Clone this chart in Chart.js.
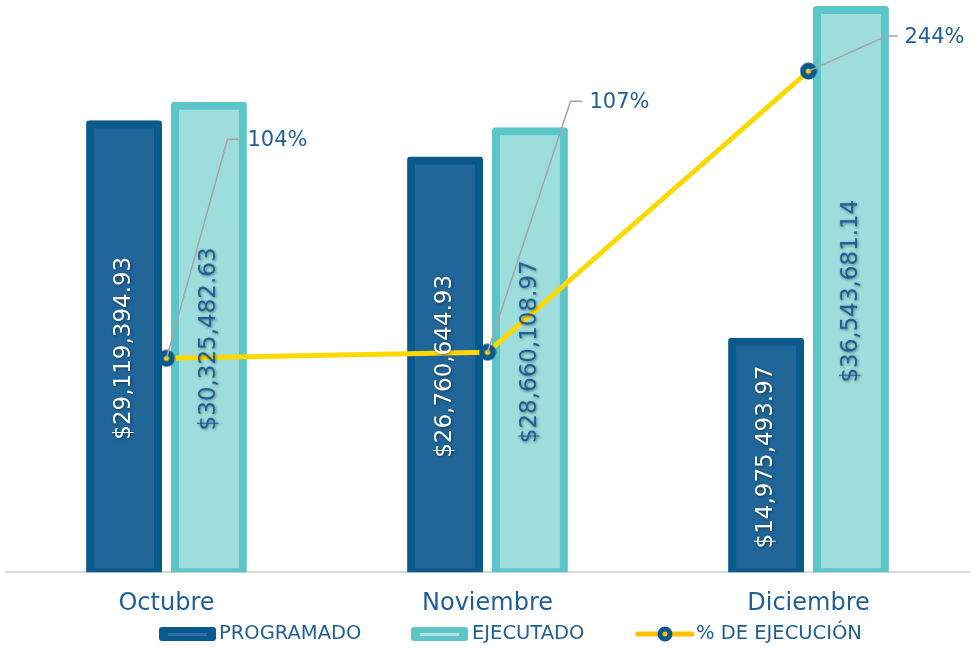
<!DOCTYPE html>
<html><head><meta charset="utf-8">
<script src="https://cdn.jsdelivr.net/npm/chart.js@4.4.0/dist/chart.umd.min.js"></script>
<style>html,body{margin:0;padding:0;background:#fff;}#wrap{width:973px;height:649px;}</style>
</head><body><div id="wrap"><canvas id="c" width="973" height="649"></canvas></div>
<script>
const categories = ['Octubre', 'Noviembre', 'Diciembre'];
const programado = [29119394.93, 26760644.93, 14975493.97];
const ejecutado = [30325482.63, 28660108.97, 36543681.14];
const ejecucionPct = [104.14, 107.10, 244.02];
const seriesNames = ['PROGRAMADO', 'EJECUTADO', '% DE EJECUCIÓN'];

const FONT = '"DejaVu Sans", "Noto Sans", sans-serif';
const TEXT_BLUE = '#1F5F99';
const DARK_BORDER = '#0B5A8E', DARK_FILL = '#216699';
const LIGHT_BORDER = '#5CC5C7', LIGHT_FILL = '#9DDDDC';
const YELLOW = '#FFD800';

const fmtMoney = v => '$' + v.toLocaleString('en-US', {minimumFractionDigits: 2, maximumFractionDigits: 2});

// marker image for the line points: blue ring with a yellow centre
const marker = document.createElement('canvas');
marker.width = 18; marker.height = 18;
(function () {
  const m = marker.getContext('2d');
  m.beginPath(); m.arc(9, 9, 8.5, 0, Math.PI * 2); m.fillStyle = DARK_BORDER; m.fill();
  m.beginPath(); m.arc(9, 9, 2.6, 0, Math.PI * 2); m.fillStyle = YELLOW; m.fill();
})();

const labelPlugin = {
  id: 'labelPlugin',
  afterDatasetsDraw(chart) {
    const ctx = chart.ctx;
    [0, 1].forEach(di => {
      const meta = chart.getDatasetMeta(di);
      const ds = chart.data.datasets[di];
      meta.data.forEach((el, i) => {
        const cy = (el.y + el.base) / 2;
        ctx.save();
        ctx.translate(el.x, cy);
        ctx.rotate(-Math.PI / 2);
        ctx.font = '23px ' + FONT;
        ctx.textAlign = 'center';
        ctx.textBaseline = 'middle';
        ctx.shadowColor = 'rgba(0,0,0,0.45)';
        ctx.shadowBlur = 3;
        ctx.shadowOffsetX = 1;
        ctx.shadowOffsetY = 1;
        ctx.fillStyle = di === 0 ? '#FFFFFF' : TEXT_BLUE;
        ctx.fillText(fmtMoney(ds.data[i]), 0, 0);
        ctx.restore();
      });
    });
    const leaders = [
      {bx: 61, by: -219, ex: 74, tx: 81},
      {bx: 83, by: -251, ex: 95, tx: 102},
      {bx: 78, by: -35, ex: 89, tx: 96}
    ];
    const lmeta = chart.getDatasetMeta(2);
    const lds = chart.data.datasets[2];
    lmeta.data.forEach((el, i) => {
      const L = leaders[i];
      ctx.save();
      ctx.strokeStyle = '#A6A6A6';
      ctx.lineWidth = 1.5;
      ctx.beginPath();
      ctx.moveTo(el.x, el.y);
      ctx.lineTo(el.x + L.bx, el.y + L.by);
      ctx.lineTo(el.x + L.ex, el.y + L.by);
      ctx.stroke();
      ctx.font = '21px ' + FONT;
      ctx.fillStyle = TEXT_BLUE;
      ctx.textAlign = 'left';
      ctx.textBaseline = 'middle';
      ctx.fillText(Math.round(lds.data[i]) + '%', el.x + L.tx, el.y + L.by + 1);
      ctx.restore();
    });
  },
  afterDraw(chart) {
    const ctx = chart.ctx;
    const yc = 634;
    const rr = (x, y, w, h, r) => {
      ctx.beginPath();
      ctx.moveTo(x + r, y);
      ctx.arcTo(x + w, y, x + w, y + h, r);
      ctx.arcTo(x + w, y + h, x, y + h, r);
      ctx.arcTo(x, y + h, x, y, r);
      ctx.arcTo(x, y, x + w, y, r);
      ctx.closePath();
    };
    ctx.save();
    ctx.font = '19.5px ' + FONT;
    ctx.textBaseline = 'middle';
    ctx.fillStyle = DARK_BORDER; rr(159, yc - 7, 57, 14, 3); ctx.fill();
    ctx.fillStyle = '#2E6FA5'; ctx.fillRect(168, yc - 1, 39, 3);
    ctx.fillStyle = TEXT_BLUE; ctx.fillText(seriesNames[0], 219, yc);
    ctx.fillStyle = LIGHT_BORDER; rr(411, yc - 7, 57, 14, 3); ctx.fill();
    ctx.fillStyle = '#AEE4E4'; ctx.fillRect(420, yc - 1, 39, 3);
    ctx.fillStyle = TEXT_BLUE; ctx.fillText(seriesNames[1], 472, yc);
    ctx.strokeStyle = '#FFC000'; ctx.lineWidth = 5; ctx.lineCap = 'round';
    ctx.beginPath(); ctx.moveTo(638, yc); ctx.lineTo(692, yc); ctx.stroke();
    ctx.beginPath(); ctx.arc(665, yc, 5, 0, Math.PI * 2);
    ctx.fillStyle = '#FFC000'; ctx.fill();
    ctx.strokeStyle = DARK_BORDER; ctx.lineWidth = 5; ctx.stroke();
    ctx.fillStyle = TEXT_BLUE; ctx.fillText(seriesNames[2], 696, yc);
    ctx.restore();
  }
};

new Chart(document.getElementById('c'), {
  type: 'bar',
  data: {
    labels: categories,
    datasets: [
      {
        label: seriesNames[0], data: programado, yAxisID: 'y', order: 1,
        backgroundColor: DARK_FILL, borderColor: DARK_BORDER, borderWidth: 8,
        borderSkipped: false, borderRadius: 3, inflateAmount: 4,
        categoryPercentage: 0.529, barPercentage: 0.8
      },
      {
        label: seriesNames[1], data: ejecutado, yAxisID: 'y', order: 1,
        backgroundColor: LIGHT_FILL, borderColor: LIGHT_BORDER, borderWidth: 8,
        borderSkipped: false, borderRadius: 3, inflateAmount: 4,
        categoryPercentage: 0.529, barPercentage: 0.8
      },
      {
        type: 'line', label: seriesNames[2], data: ejecucionPct, yAxisID: 'y1', order: 0,
        borderColor: YELLOW, borderWidth: 5, tension: 0,
        pointStyle: marker, pointRadius: 1, pointBorderWidth: 0,
        pointBackgroundColor: YELLOW, fill: false
      }
    ]
  },
  options: {
    responsive: false,
    animation: false,
    devicePixelRatio: 1,
    layout: {padding: {left: 6, right: 3, top: 5, bottom: 14}},
    scales: {
      x: {
        offset: true, z: 1,
        grid: {display: true, drawOnChartArea: false, drawTicks: false},
        border: {display: true, color: '#D9D9D9', width: 2},
        ticks: {font: {family: FONT, size: 24}, color: TEXT_BLUE, padding: 17}
      },
      y: {display: false, min: 0, max: 36870000},
      y1: {display: false, min: 0, max: 276.2, position: 'right'}
    },
    plugins: {
      legend: {display: false},
      tooltip: {enabled: false}
    }
  },
  plugins: [labelPlugin]
});
</script>
</body></html>
